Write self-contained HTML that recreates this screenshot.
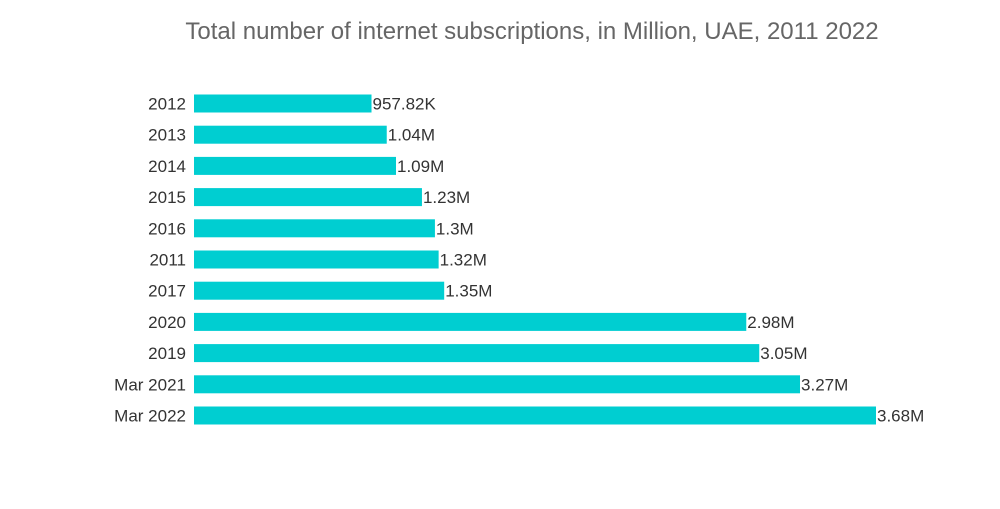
<!DOCTYPE html>
<html><head><meta charset="utf-8"><style>
body{margin:0;background:#fff;width:1000px;height:504px;overflow:hidden;font-family:"Liberation Sans",sans-serif}
</style></head><body>
<svg width="1000" height="504">
<text x="532" y="39" text-anchor="middle" font-size="24" fill="#666">Total number of internet subscriptions, in Million, UAE, 2011  2022</text>
<g id="bars"></g>
</svg>
<script>
const categories=["2012","2013","2014","2015","2016","2011","2017","2020","2019","Mar 2021","Mar 2022"];
const values=[0.95782,1.04,1.09,1.23,1.3,1.32,1.35,2.98,3.05,3.27,3.68];
const labels=["957.82K","1.04M","1.09M","1.23M","1.3M","1.32M","1.35M","2.98M","3.05M","3.27M","3.68M"];
const x0=194,scale=682/3.68,y0=103.5,step=31.2,bh=18;
const xs=v=>x0+v*scale, ys=i=>y0+i*step;
const g=document.getElementById('bars');const ns='http://www.w3.org/2000/svg';
categories.forEach((c,i)=>{
 const r=document.createElementNS(ns,'rect');
 r.setAttribute('x',x0);r.setAttribute('y',ys(i)-bh/2);r.setAttribute('width',xs(values[i])-x0);r.setAttribute('height',bh);r.setAttribute('fill','#00CED1');
 
 
 g.appendChild(r);
 const t=document.createElementNS(ns,'text');
 t.setAttribute('x',186);t.setAttribute('y',ys(i)+6);t.setAttribute('text-anchor','end');t.setAttribute('font-size','17');t.setAttribute('fill','#333');t.textContent=c;
 
 
 g.appendChild(t);
 const l=document.createElementNS(ns,'text');
 l.setAttribute('x',xs(values[i])+1);l.setAttribute('y',ys(i)+6);l.setAttribute('font-size','17');l.setAttribute('fill','#333');l.textContent=labels[i];
 
 
 g.appendChild(l);
});
</script>
</body></html>
